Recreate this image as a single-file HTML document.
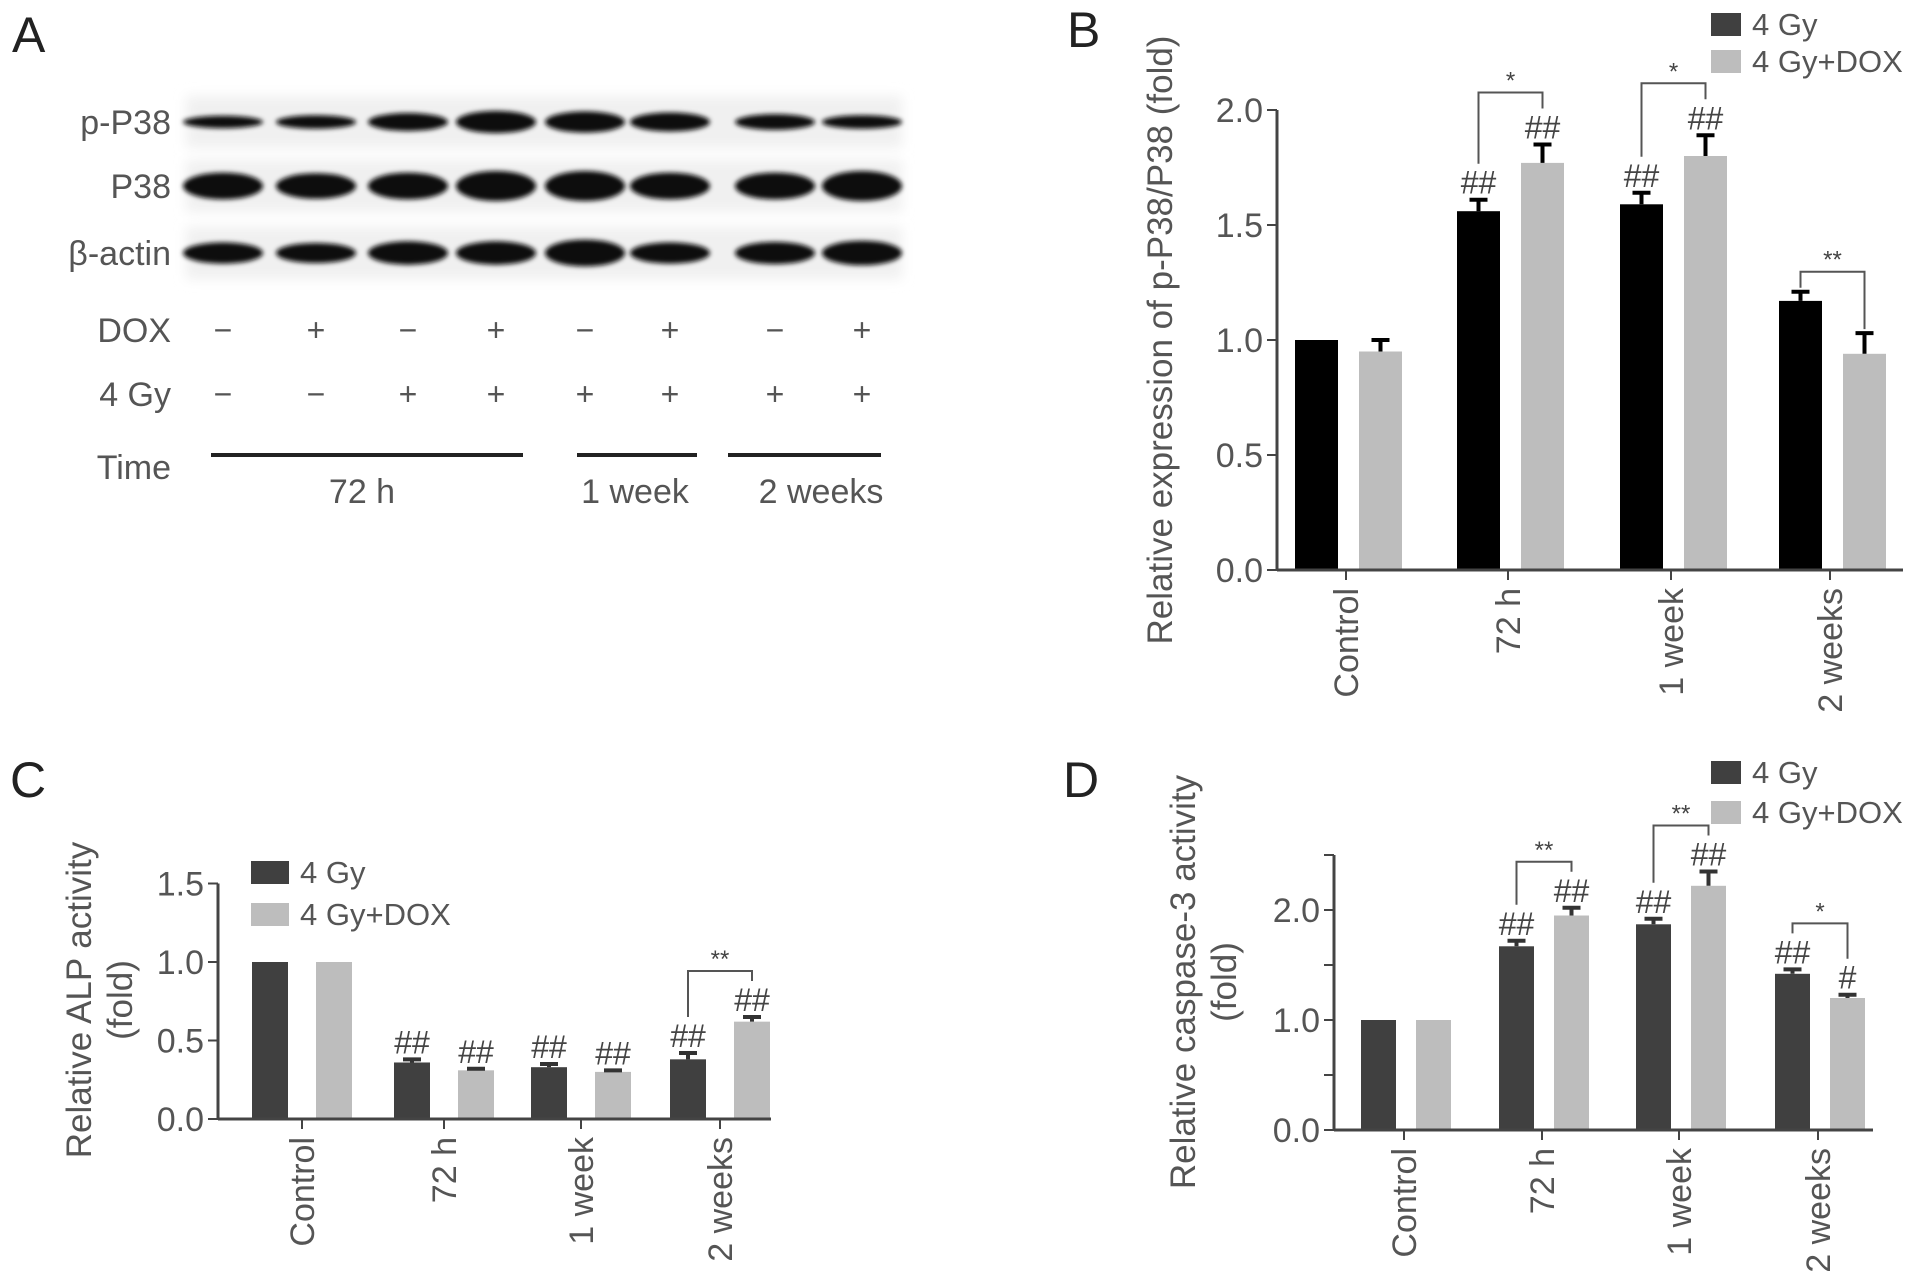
<!DOCTYPE html>
<html><head><meta charset="utf-8"><style>
html,body{margin:0;padding:0;background:#fff;}
svg{display:block;}
text{font-family:"Liberation Sans",sans-serif;}
</style></head><body>
<svg id="fig" width="1913" height="1285" viewBox="0 0 1913 1285" xmlns="http://www.w3.org/2000/svg">
<defs>
<filter id="blur" x="-20%" y="-80%" width="140%" height="260%"><feGaussianBlur stdDeviation="2.5"/></filter>
<filter id="blur2" x="-10%" y="-50%" width="120%" height="200%"><feGaussianBlur stdDeviation="6"/></filter>
</defs>
<g id="panelA">
<text x="12" y="52" font-size="50" fill="#222">A</text>
<g fill="#555" font-size="34" text-anchor="end">
<text x="171" y="134">p-P38</text>
<text x="171" y="198">P38</text>
<text x="171" y="265" font-family="'Liberation Serif',serif">β<tspan font-family="'Liberation Sans',sans-serif">-actin</tspan></text>
<text x="171" y="342">DOX</text>
<text x="171" y="406">4 Gy</text>
<text x="171" y="479">Time</text>
</g>
<g id="blots"></g>
<g id="signs" fill="#555" font-size="32" text-anchor="middle"></g>
<g stroke="#222" stroke-width="4">
<line x1="211" y1="455" x2="523" y2="455"/>
<line x1="577" y1="455" x2="697" y2="455"/>
<line x1="728" y1="455" x2="881" y2="455"/>
</g>
<g fill="#555" font-size="34" text-anchor="middle">
<text x="362" y="503">72 h</text>
<text x="635" y="503">1 week</text>
<text x="821" y="503">2 weeks</text>
</g>
</g>
<g id="panelB"></g>
<g id="panelC"></g>
<g id="panelD"></g>
</svg>
<script>
// ---------- data ----------
const categories = ["Control", "72 h", "1 week", "2 weeks"];
const seriesNames = ["4 Gy", "4 Gy+DOX"];
// Panel B: relative p-P38/P38
const bVals4Gy = [1.0, 1.56, 1.59, 1.17];
const bErr4Gy = [0, 0.05, 0.05, 0.04];
const bValsDox = [0.95, 1.77, 1.80, 0.94];
const bErrDox = [0.05, 0.08, 0.09, 0.09];
const bHash4Gy = ["", "##", "##", ""];
const bHashDox = ["", "##", "##", ""];
const bSigGroups = [1, 2, 3];
const bSigLabels = ["*", "*", "**"];
const bTicks = [0, 0.5, 1.0, 1.5, 2.0];
const bTickLabels = ["0.0", "0.5", "1.0", "1.5", "2.0"];
// Panel C: ALP activity
const cVals4Gy = [1.0, 0.36, 0.33, 0.38];
const cErr4Gy = [0, 0.02, 0.02, 0.04];
const cValsDox = [1.0, 0.31, 0.30, 0.62];
const cErrDox = [0, 0.01, 0.01, 0.03];
const cHash4Gy = ["", "##", "##", "##"];
const cHashDox = ["", "##", "##", "##"];
const cSigGroups = [3];
const cSigLabels = ["**"];
const cTicks = [0, 0.5, 1.0, 1.5];
const cTickLabels = ["0.0", "0.5", "1.0", "1.5"];
// Panel D: caspase-3 activity
const dVals4Gy = [1.0, 1.67, 1.87, 1.42];
const dErr4Gy = [0, 0.05, 0.05, 0.04];
const dValsDox = [1.0, 1.95, 2.22, 1.20];
const dErrDox = [0, 0.07, 0.13, 0.03];
const dHash4Gy = ["", "##", "##", "##"];
const dHashDox = ["", "##", "##", "#"];
const dSigGroups = [1, 2, 3];
const dSigLabels = ["**", "**", "*"];
const dTicks = [0, 0.5, 1.0, 1.5, 2.0, 2.5];
const dTickLabels = ["0.0", "", "1.0", "", "2.0", ""];
// blot band intensities (relative thickness) per lane
const bandPP38 = [0.2, 0.25, 0.45, 0.65, 0.6, 0.5, 0.35, 0.25];
const bandP38 = [0.85, 0.8, 0.85, 1.0, 1.0, 0.85, 0.85, 1.0];
const bandActin = [0.6, 0.55, 0.7, 0.7, 0.85, 0.6, 0.65, 0.75];
const doxSigns = ["−", "+", "−", "+", "−", "+", "−", "+"];
const gySigns = ["−", "−", "+", "+", "+", "+", "+", "+"];

const NS = "http://www.w3.org/2000/svg";
function mk(tag, attrs, parent) {
  const e = document.createElementNS(NS, tag);
  for (const k in attrs) e.setAttribute(k, attrs[k]);
  parent.appendChild(e);
  return e;
}

// ---------- panel A ----------
const laneX = [223, 316, 408, 496, 585, 670, 775, 862];
const blots = document.getElementById("blots");
const rows = [[bandPP38, 122, "p-p38"], [bandP38, 186, "p38"], [bandActin, 253, "beta-actin"]];
rows.forEach(([arr, cy, nm]) => {
  const bg = mk("rect", {x: 186, y: cy - 26, width: 716, height: 52, fill: "#f0f0f0", filter: "url(#blur2)"}, blots);
  
  
  arr.forEach((v, i) => {
    const b = mk("ellipse", {cx: laneX[i], cy: cy, rx: 40, ry: 4 + v * 11, fill: "#111", filter: "url(#blur)"}, blots);
    
    
  });
});
const signs = document.getElementById("signs");
laneX.forEach((x, i) => {
  const t1 = mk("text", {x: x, y: 341}, signs); t1.textContent = doxSigns[i];
  
  
  const t2 = mk("text", {x: x, y: 405}, signs); t2.textContent = gySigns[i];
  
  
});

// ---------- bar panels ----------
function drawPanel(g, cfg, v1, e1, v2, e2, h1, h2, sigG, sigL, ticks, tickLabels) {
  const y = v => cfg.y0 - v * cfg.ppu;
  const txtCol = "#555";
  const L = mk("text", {x: cfg.letterX, y: cfg.letterY, "font-size": 50, fill: "#222"}, g);
  L.textContent = cfg.letter;
  
  
  const hashTop1 = [], hashTop2 = [];
  categories.forEach((c, i) => {
    const cx = cfg.gx[i];
    [[v1, e1, h1, cfg.c1, cfg.off1, hashTop1, "4gy"], [v2, e2, h2, cfg.c2, cfg.off2, hashTop2, "dox"]].forEach(([vals, errs, hashes, col, off, ht, sn]) => {
      const x = cx + off;
      const r = mk("rect", {x: x, y: y(vals[i]), width: cfg.bw, height: y(0) - y(vals[i]), fill: col}, g);
      
      
      let top = y(vals[i]);
      if (errs[i] > 0) {
        const et = y(vals[i] + errs[i]);
        const el = mk("path", {d: `M${x + cfg.bw / 2} ${y(vals[i])}V${et}M${x + cfg.bw / 2 - 9} ${et}H${x + cfg.bw / 2 + 9}`, stroke: cfg.errCol, "stroke-width": 4, fill: "none"}, g);
        
        
        top = et;
      }
      if (hashes[i]) {
        const t = mk("text", {x: x + cfg.bw / 2, y: top - 6, "font-size": 32, fill: "#444", "text-anchor": "middle", "font-family": "'Liberation Serif',serif"}, g);
        t.textContent = hashes[i];
        
        
        top = top - 32;
      }
      ht[i] = top;
    });
  });
  sigG.forEach((gi, k) => {
    const xl = cfg.gx[gi] + cfg.off1 + cfg.bw / 2, xr = cfg.gx[gi] + cfg.off2 + cfg.bw / 2;
    const yt = Math.min(hashTop1[gi], hashTop2[gi]) - cfg.sigGap;
    const p = mk("path", {d: `M${xl} ${hashTop1[gi] - 4}V${yt}H${xr}V${hashTop2[gi] - 4}`, stroke: "#555", "stroke-width": 2, fill: "none"}, g);
    
    
    const t = mk("text", {x: (xl + xr) / 2, y: yt - 4, "font-size": 24, fill: "#444", "text-anchor": "middle"}, g);
    t.textContent = sigL[k];
    
    
  });
  const ya = mk("line", {x1: cfg.ax, y1: y(ticks[ticks.length - 1]), x2: cfg.ax, y2: y(0), stroke: "#444", "stroke-width": 3}, g);
  
  
  const xa = mk("line", {x1: cfg.ax, y1: y(0), x2: cfg.axEnd, y2: y(0), stroke: "#444", "stroke-width": 3}, g);
  
  
  ticks.forEach((tv, i) => {
    const tk = mk("line", {x1: cfg.ax - 10, y1: y(tv), x2: cfg.ax, y2: y(tv), stroke: "#444", "stroke-width": 2}, g);
    
    
    if (tickLabels[i]) {
      const t = mk("text", {x: cfg.ax - 14, y: y(tv) + 12, "font-size": 34, fill: txtCol, "text-anchor": "end"}, g);
      t.textContent = tickLabels[i];
      
      
    }
  });
  categories.forEach((c, i) => {
    const tk = mk("line", {x1: cfg.gx[i], y1: y(0), x2: cfg.gx[i], y2: y(0) + 10, stroke: "#444", "stroke-width": 2}, g);
    
    
    const tx = cfg.gx[i] + 12, ty = y(0) + 18;
    const t = mk("text", {x: tx, y: ty, "font-size": 34, fill: txtCol, "text-anchor": "end", transform: `rotate(-90 ${tx} ${ty})`}, g);
    t.textContent = c;
    
    
  });
  cfg.title.forEach((line, i) => {
    const tx = cfg.titleX[i], ty = cfg.titleY;
    const t = mk("text", {x: tx, y: ty, "font-size": 35, fill: txtCol, "text-anchor": "middle", transform: `rotate(-90 ${tx} ${ty})`}, g);
    t.textContent = line;
    
    
  });
  seriesNames.forEach((s, i) => {
    const ly = cfg.legY[i];
    const r = mk("rect", {x: cfg.legX, y: ly - 11, width: cfg.legW, height: 23, fill: i === 0 ? "#404040" : cfg.c2}, g);
    
    
    const t = mk("text", {x: cfg.legX + cfg.legW + 11, y: ly + 11, "font-size": 31, fill: txtCol}, g);
    t.textContent = s;
    
    
  });
}

drawPanel(document.getElementById("panelB"), {
  letter: "B", letterX: 1067, letterY: 47,
  y0: 570, ppu: 230, ax: 1277, axEnd: 1903,
  gx: [1346, 1508, 1671, 1830], off1: -51, off2: 13, bw: 43,
  c1: "#000", c2: "#bdbdbd", errCol: "#000", sigGap: 20,
  title: ["Relative expression of p-P38/P38 (fold)"], titleX: [1172], titleY: 340,
  legX: 1711, legW: 30, legY: [24, 61]
}, bVals4Gy, bErr4Gy, bValsDox, bErrDox, bHash4Gy, bHashDox, bSigGroups, bSigLabels, bTicks, bTickLabels);

drawPanel(document.getElementById("panelC"), {
  letter: "C", letterX: 10, letterY: 797,
  y0: 1119, ppu: 157, ax: 218, axEnd: 771,
  gx: [302, 444, 581, 720], off1: -50, off2: 14, bw: 36,
  c1: "#404040", c2: "#bdbdbd", errCol: "#333", sigGap: 14,
  title: ["Relative ALP activity", "(fold)"], titleX: [91, 132], titleY: 1000,
  legX: 251, legW: 38, legY: [872, 914]
}, cVals4Gy, cErr4Gy, cValsDox, cErrDox, cHash4Gy, cHashDox, cSigGroups, cSigLabels, cTicks, cTickLabels);

drawPanel(document.getElementById("panelD"), {
  letter: "D", letterX: 1063, letterY: 797,
  y0: 1130, ppu: 110, ax: 1334, axEnd: 1873,
  gx: [1404, 1542, 1679, 1818], off1: -43, off2: 12, bw: 35,
  c1: "#404040", c2: "#bdbdbd", errCol: "#333", sigGap: 14,
  title: ["Relative caspase-3 activity", "(fold)"], titleX: [1195, 1236], titleY: 982,
  legX: 1711, legW: 30, legY: [772, 812]
}, dVals4Gy, dErr4Gy, dValsDox, dErrDox, dHash4Gy, dHashDox, dSigGroups, dSigLabels, dTicks, dTickLabels);
</script>
</body></html>
